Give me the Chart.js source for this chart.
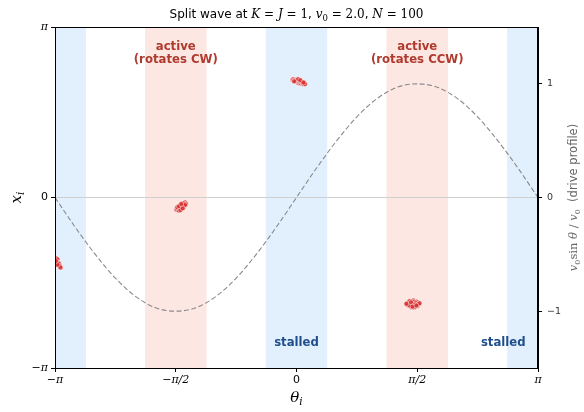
<!DOCTYPE html>
<html><head><meta charset="utf-8">
<script src="https://cdn.jsdelivr.net/npm/chart.js@4/dist/chart.umd.min.js"></script>
<style>html,body{margin:0;padding:0;background:#fff}#wrap{width:584px;height:412px}</style>
</head><body><div id="wrap"><canvas id="c" width="584" height="412"></canvas></div>
<script>
const PI = Math.PI;
// tick values / labels
const xTickValues = [-PI, -PI/2, 0, PI/2, PI];
const xTickLabels = ['\u2212\u03c0', '\u2212\u03c0/2', '0', '\u03c0/2', '\u03c0'];
const yTickValues = [-PI, 0, PI];
const yTickLabels = ['\u2212\u03c0', '0', '\u03c0'];
const y2TickValues = [-1, 0, 1];
const y2TickLabels = ['\u22121', '0', '1'];

// drive profile
const profileTheta = [-3.1416,-2.8798,-2.6180,-2.3562,-2.0944,-1.8326,-1.5708,-1.3090,-1.0472,-0.7854,-0.5236,-0.2618,0,
  0.2618,0.5236,0.7854,1.0472,1.3090,1.5708,1.8326,2.0944,2.3562,2.6180,2.8798,3.1416];
const profileValue = [0,-0.26,-0.50,-0.71,-0.87,-0.97,-1.00,-0.97,-0.87,-0.71,-0.50,-0.26,0,
  0.26,0.50,0.71,0.87,0.97,1.00,0.97,0.87,0.71,0.50,0.26,0];

// oscillator clusters (theta_i, x_i)
const thetaA = [-1.56,-1.54,-1.53,-1.52,-1.51,-1.50,-1.50,-1.49,-1.48,-1.48,-1.47,-1.46,-1.46,-1.45,-1.44,-1.52,-1.55,-1.49,-1.47,-1.51,-1.53,-1.45,-1.48,-1.50];
const xA     = [-0.22,-0.20,-0.24,-0.17,-0.21,-0.15,-0.19,-0.13,-0.17,-0.12,-0.15,-0.10,-0.13,-0.09,-0.12,-0.18,-0.18,-0.16,-0.11,-0.23,-0.16,-0.14,-0.20,-0.12];
const thetaB = [-0.05,-0.04,-0.03,-0.02,-0.01,0.00,0.01,0.02,0.03,0.03,0.04,0.05,0.06,0.07,0.08,0.09,0.10,0.11,0.02,-0.03,0.05,0.09];
const xB     = [2.17,2.18,2.15,2.17,2.16,2.14,2.16,2.12,2.15,2.11,2.13,2.12,2.10,2.12,2.10,2.09,2.11,2.09,2.18,2.14,2.16,2.12];
const thetaC = [1.44,1.46,1.47,1.48,1.49,1.50,1.50,1.51,1.52,1.52,1.53,1.54,1.55,1.56,1.57,1.58,1.45,1.47,1.49,1.51,1.53,1.55,1.57,1.48,1.50,1.52,1.54,1.56,1.46,1.49,1.51,1.53,1.55,1.50,1.52,1.47,1.54,1.58,1.43,1.60,1.49,1.53,1.51,1.56];
const xC     = [-1.95,-1.93,-1.97,-1.94,-1.99,-1.92,-1.96,-1.98,-1.94,-2.00,-1.96,-1.93,-1.98,-1.95,-1.97,-1.94,-1.98,-1.91,-2.01,-1.93,-1.99,-1.96,-2.00,-1.96,-2.02,-1.90,-2.01,-1.92,-1.96,-1.97,-1.95,-1.92,-1.94,-1.99,-1.97,-1.99,-1.97,-1.97,-1.96,-1.95,-1.93,-2.02,-2.01,-1.99];
const thetaD = [-3.13,-3.12,-3.12,-3.11,-3.10,-3.09,-3.08,-3.07,-3.11,-3.13];
const xD     = [-1.12,-1.15,-1.18,-1.14,-1.20,-1.22,-1.26,-1.29,-1.24,-1.17];

// regime bands (theta ranges)
const bandStart = [-3.54, -1.97, -0.40, 1.17, 2.74];
const bandEnd   = [-2.74, -1.17,  0.40, 1.97, 3.54];
const bandKind  = ['stalled','active','stalled','active','stalled'];

// annotations
const noteTheta = [-PI/2, PI/2, 0, 2.69];
const noteLines = [['active','(rotates CW)'], ['active','(rotates CCW)'], ['stalled'], ['stalled']];
const noteKind  = ['active','active','stalled','stalled'];

const pts = [];
[[thetaA,xA],[thetaB,xB],[thetaC,xC],[thetaD,xD]].forEach(([t,x]) => t.forEach((v,i)=>pts.push({x:v,y:x[i]})));
const profile = profileTheta.map((t,i)=>({x:t,y:profileValue[i]}));

const SERIF = '"DejaVu Serif"', SANS = '"DejaVu Sans"';
function drawRuns(ctx, runs, x, y){
  let w = 0;
  for (const r of runs){ ctx.font = r.f; w += ctx.measureText(r.t).width; }
  let cx = x - w/2;
  ctx.textAlign = 'left'; ctx.textBaseline = 'alphabetic';
  for (const r of runs){ ctx.font = r.f; ctx.fillText(r.t, cx, y + (r.dy||0)); cx += ctx.measureText(r.t).width; }
}

const bandsPlugin = {
  id: 'bands',
  beforeDraw(chart){
    const {ctx, chartArea:a, scales:{x}} = chart;
    ctx.save();
    ctx.beginPath(); ctx.rect(a.left, a.top, a.right-a.left, a.bottom-a.top); ctx.clip();
    bandStart.forEach((s,i)=>{
      const x0 = x.getPixelForValue(s), x1 = x.getPixelForValue(bandEnd[i]);
      ctx.fillStyle = bandKind[i]==='active' ? 'rgb(253,231,226)' : 'rgb(226,240,253)';
      ctx.fillRect(x0, a.top, x1-x0, a.bottom-a.top);
    });
    ctx.restore();
  },
  afterDatasetsDraw(chart){
    const {ctx, chartArea:a, scales:{x}} = chart;
    ctx.save();
    noteTheta.forEach((t,i)=>{
      const px = x.getPixelForValue(t);
      ctx.fillStyle = noteKind[i]==='active' ? '#b03a2e' : '#1f4e8c';
      ctx.font = 'bold 11.7px ' + SANS;
      ctx.textAlign = 'center'; ctx.textBaseline = 'middle';
      const lines = noteLines[i];
      if (noteKind[i]==='active'){
        lines.forEach((l,j)=>ctx.fillText(l, px, a.top + 19.5 + j*13.5));
      } else {
        ctx.fillText(lines[0], px, a.bottom - 25.5);
      }
    });
    ctx.restore();
  },
  afterDraw(chart){
    const {ctx, chartArea:a} = chart;
    ctx.save();
    ctx.strokeStyle = '#000'; ctx.lineWidth = 1;
    ctx.strokeRect(Math.round(a.left)+0.5, Math.round(a.top)+0.5, Math.round(a.right-a.left)-1, Math.round(a.bottom-a.top));
    ctx.fillStyle = '#000';
    const cx = (a.left + a.right)/2;
    // title
    const T = 12, Ts = 8.5;
    drawRuns(ctx, [
      {t:'Split wave at ', f:T+'px '+SANS},
      {t:'K', f:'italic '+T+'px '+SERIF},
      {t:' = ', f:T+'px '+SERIF},
      {t:'J', f:'italic '+T+'px '+SERIF},
      {t:' = 1', f:T+'px '+SERIF},
      {t:', ', f:T+'px '+SANS},
      {t:'v', f:'italic '+T+'px '+SERIF},
      {t:'0', f:Ts+'px '+SERIF, dy:2.5},
      {t:' = 2.0', f:T+'px '+SERIF},
      {t:', ', f:T+'px '+SANS},
      {t:'N', f:'italic '+T+'px '+SERIF},
      {t:' = 100', f:T+'px '+SERIF}
    ], cx, 18);
    // x label
    drawRuns(ctx, [
      {t:'\u03b8', f:'italic 15px '+SERIF},
      {t:'i', f:'italic 10.5px '+SERIF, dy:3}
    ], cx, 402);
    // y label
    ctx.save(); ctx.translate(17, (a.top+a.bottom)/2); ctx.rotate(-PI/2);
    drawRuns(ctx, [
      {t:'x', f:'italic 15px '+SERIF},
      {t:'i', f:'italic 10.5px '+SERIF, dy:3}
    ], 0, 4);
    ctx.restore();
    // right label
    ctx.save(); ctx.fillStyle = '#666';
    ctx.translate(573, (a.top+a.bottom)/2); ctx.rotate(-PI/2);
    const R = 11.5;
    drawRuns(ctx, [
      {t:'v', f:'italic '+R+'px '+SERIF},
      {t:'0', f:'8px '+SERIF, dy:2.5},
      {t:'sin ', f:R+'px '+SERIF},
      {t:'\u03b8', f:'italic '+R+'px '+SERIF},
      {t:' / ', f:R+'px '+SERIF},
      {t:'v', f:'italic '+R+'px '+SERIF},
      {t:'0', f:'8px '+SERIF, dy:2.5},
      {t:'  (drive profile)', f:R+'px '+SANS}
    ], 0, 4);
    ctx.restore();
    ctx.restore();
  }
};

const tickFont = (c) => (c.tick && c.tick.value === 0)
  ? {family: 'DejaVu Sans', size: 11}
  : {family: 'DejaVu Serif', style: 'italic', size: 11};

new Chart(document.getElementById('c'), {
  type: 'scatter',
  data: { datasets: [
    { type:'line', data: profile, yAxisID:'y2', borderColor:'#8a8a8a', borderDash:[5,2.5], borderWidth:1.1,
      pointRadius:0, fill:false, cubicInterpolationMode:'monotone', order:2 },
    { data: pts, yAxisID:'y', backgroundColor:'rgba(214,45,45,0.85)', borderColor:'#ffffff', borderWidth:0.5,
      pointRadius:2.5, order:1 }
  ]},
  options: {
    responsive:false, animation:false, devicePixelRatio:1,
    layout:{padding:{top:27,left:0,right:0,bottom:0}},
    plugins:{legend:{display:false}, tooltip:{enabled:false}, title:{display:false}},
    scales:{
      x:{ type:'linear', min:-PI, max:PI,
        afterBuildTicks: s => { s.ticks = xTickValues.map(v=>({value:v})); },
        afterFit: s => { s.height = 44; },
        ticks:{ callback:(v,i)=>xTickLabels[i], font: tickFont, color:'#000', padding:2, maxRotation:0, autoSkip:false },
        grid:{ drawOnChartArea:false, tickLength:4, tickColor:'#000' },
        border:{ color:'#000', width:1 } },
      y:{ type:'linear', position:'left', min:-PI, max:PI,
        afterBuildTicks: s => { s.ticks = yTickValues.map(v=>({value:v})); },
        afterFit: s => { s.width = 55; },
        ticks:{ callback:(v,i)=>yTickLabels[i], font: tickFont, color:'#000', padding:3, autoSkip:false },
        grid:{ drawOnChartArea:false, tickLength:4, tickColor:'#000' },
        border:{ color:'#000', width:1 } },
      y2:{ type:'linear', position:'right', min:-1.5, max:1.5,
        afterBuildTicks: s => { s.ticks = y2TickValues.map(v=>({value:v})); },
        afterFit: s => { s.width = 46; },
        ticks:{ callback:(v,i)=>y2TickLabels[i], font:{family:'DejaVu Sans', size:9.5}, color:'#333', padding:5, autoSkip:false },
        grid:{ drawOnChartArea:true, color: c => (c.tick && c.tick.value === 0) ? '#cfcfcf' : 'rgba(0,0,0,0)',
               lineWidth:1, tickLength:4, tickColor:'#000' },
        border:{ color:'#000', width:1 } }
    }
  },
  plugins:[bandsPlugin]
});
</script>
</body></html>
